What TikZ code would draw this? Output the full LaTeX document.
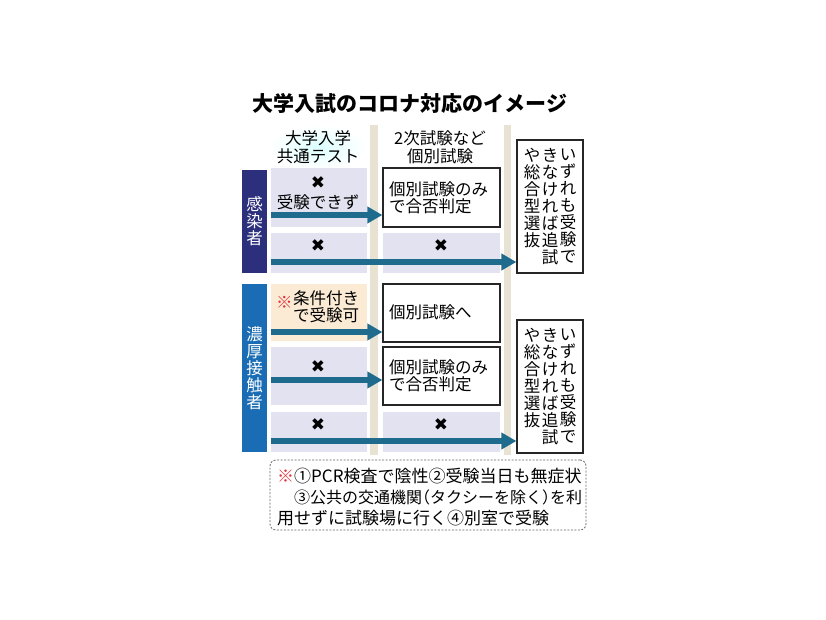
\documentclass[tikz,border=0pt]{standalone}
\usepackage{fontspec}
\newfontfamily\jp{Noto Sans CJK JP}
\newfontfamily\sym{DejaVu Sans}
\usetikzlibrary{arrows.meta}

\begin{document}
\begin{tikzpicture}[x=1pt, y=-1pt, font=\jp\fontsize{16.5}{17}\selectfont,
  cell/.style={minimum width=#1, inner sep=0pt, line width=1.2pt},
  vtext/.style={align=center, inner sep=0pt, font=\jp\fontsize{16.5}{17}\selectfont},
  cross/.style={font=\sym\fontsize{17}{17}\selectfont, inner sep=0pt},
  flow/.style={line width=6pt, arrowteal, -{Triangle[length=15pt,width=16pt]}}]
  \definecolor{lav}{HTML}{E3E2F0}
  \definecolor{peach}{HTML}{FBEBD5}
  \definecolor{navy}{HTML}{2C2F7C}
  \definecolor{midblue}{HTML}{1A6DB4}
  \definecolor{arrowteal}{HTML}{1F6B8E}
  \definecolor{barbeige}{HTML}{E7E2D2}
  \definecolor{kome}{HTML}{E0303A}
  \useasboundingbox (0,0) rectangle (826,620);

  % title and column heads
  \node[font=\jp\bfseries\fontsize{21}{21}\selectfont] (title) at (410,103) {大学入試のコロナ対応のイメージ};
  \shade[inner color=cyan!14, outer color=white] (318,147) ellipse (48 and 22);
  \node[align=center, font=\jp\fontsize{16.5}{18}\selectfont] (head1) at (318,147) {大学入学\\共通テスト};
  \node[align=center, font=\jp\fontsize{16.5}{18}\selectfont] (head2) at (440,147) {2次試験など\\個別試験};
  \foreach \x/\w in {370/8, 504/7} \fill[barbeige] (\x,125) rectangle ++(\w,330);

  % group labels
  \node[cell=25pt, fill=navy, minimum height=103pt] (inf) at (254.5,221.5) {};
  \node[vtext, white] at (inf) {感\\染\\者};
  \node[cell=25pt, fill=midblue, minimum height=168pt] (close) at (254.5,368) {};
  \node[vtext, white] at (close) {濃\\厚\\接\\触\\者};

  % cells
  \foreach \n/\x/\y/\w/\h/\s in {c1a/319/197.5/96/59/lav, c1b/319/253/96/40/lav,
      c1c/319/312.5/96/57/peach, c1d/319/376/96/58/lav, c1e/319/432/96/40/lav,
      c2b/441.5/253/117/40/lav, c2e/441.5/432/117/40/lav}
    \node[cell=\w pt, minimum height=\h pt, fill=\s] (\n) at (\x,\y) {};
  \foreach \n/\y/\h in {c2a/197.5/59, c2c/313/58, c2d/376/58}
    \node[cell=117pt, minimum height=\h pt, draw=black!85, fill=white] (\n) at (441.5,\y) {};
  \foreach \n/\y in {r1/206.5, r2/386.5}
    \node[cell=66pt, minimum height=133pt, draw=black!85, fill=white] (\n) at (550,\y) {};

  % crosses
  \foreach \x/\y in {318/183, 318/246, 441/246, 318/367, 318/425, 441/425}
    \node[cross] at (\x,\y) {✖};

  % texts
  \node[inner sep=0pt] at (318,202) {受験できず};
  \node[align=left, anchor=west, inner sep=0pt] at (389,198) {個別試験のみ\\で合否判定};
  \node[anchor=west, inner sep=0pt, text=kome] at (276,302) {※};
  \node[align=left, anchor=west, inner sep=0pt] at (293,307) {条件付き\\で受験可};
  \node[anchor=west, inner sep=0pt] at (389,312) {個別試験へ};
  \node[align=left, anchor=west, inner sep=0pt] at (389,376) {個別試験のみ\\で合否判定};
  \foreach \r in {r1, r2} {
    \node[vtext, anchor=north] at ([xshift=18pt, yshift=-9pt]\r.north) {い\\ず\\れ\\も\\受\\験\\で};
    \node[vtext, anchor=north] at ([yshift=-9pt]\r.north) {き\\な\\け\\れ\\ば\\追\\試};
    \node[vtext, anchor=north] at ([xshift=-18pt, yshift=-9pt]\r.north) {や\\総\\合\\型\\選\\抜};
  }

  % arrows
  \coordinate (a1) at (271,215);
  \coordinate (a2) at (271,262);
  \coordinate (a3) at (271,332);
  \coordinate (a4) at (271,380);
  \coordinate (a5) at (271,441);
  \draw[flow] (a1) -- (a1 -| c2a.west);
  \draw[flow] (a2) -- (a2 -| r1.west);
  \draw[flow] (a3) -- (a3 -| c2c.west);
  \draw[flow] (a4) -- (a4 -| c2d.west);
  \draw[flow] (a5) -- (a5 -| r2.west);

  % note
  \node[draw=black!60, dash pattern=on 2pt off 1.5pt, rounded corners=6pt, line width=0.8pt, minimum width=316pt, minimum height=70pt] (note) at (428,495) {};
  \node[anchor=west, inner sep=0pt, font=\jp\fontsize{17}{17}\selectfont] at (277,476) {{\color{kome}※}①PCR検査で陰性②受験当日も無症状};
  \node[anchor=west, inner sep=0pt, font=\jp\fontsize{16}{16}\selectfont] at (294,497) {③公共の交通機関\hspace{-.5em}（タクシーを除く）\hspace{-.5em}を利};
  \node[anchor=west, inner sep=0pt, font=\jp\fontsize{17}{17}\selectfont] at (277,518) {用せずに試験場に行く④別室で受験};
\end{tikzpicture}
\end{document}
